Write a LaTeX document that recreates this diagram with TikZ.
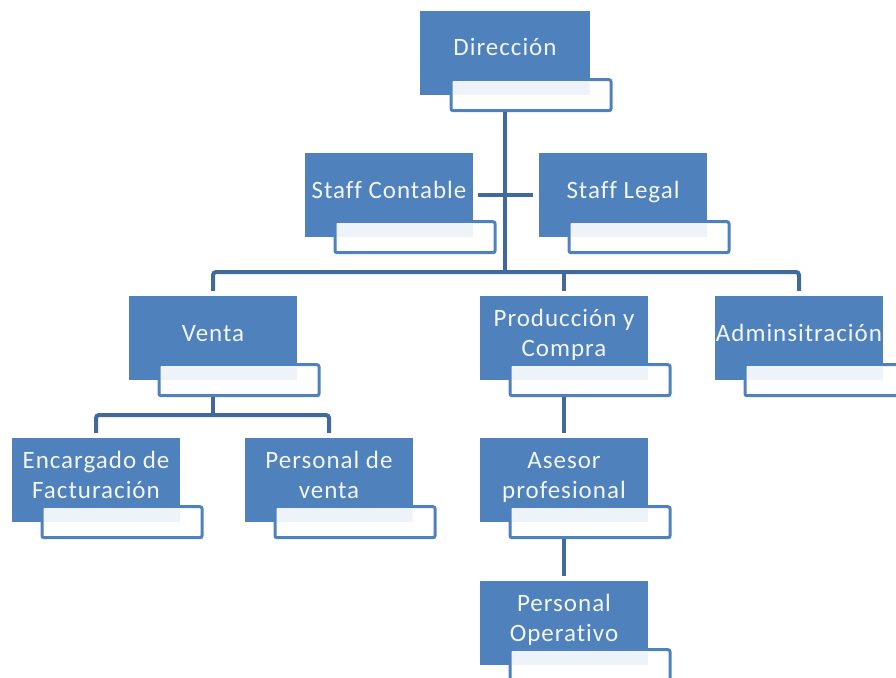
\documentclass[tikz,border=0pt]{standalone}
\usepackage{fontspec}
\setmainfont{Carlito}[LetterSpace=4, Ligatures=NoCommon]
\usetikzlibrary{calc, positioning}
\definecolor{boxblue}{HTML}{4F81BD}
\definecolor{lineblue}{HTML}{41699C}
\definecolor{paleblue}{HTML}{EEF3FA}
\tikzset{
    unit/.style={rectangle, fill=boxblue, minimum width=168pt, minimum height=84pt,
        inner sep=0pt, align=center, text=white!93!boxblue,
        font=\fontsize{25}{30}\selectfont, text height=17pt, text depth=11pt},
    twoline/.style={text height=47pt},
    subbox/.style={rectangle, fill=white, draw=boxblue, line width=3pt,
        rounded corners=2pt, minimum width=160pt, minimum height=31pt},
    link/.style={draw=lineblue, line width=4pt, rounded corners=3pt}
}

\begin{document}
\begin{tikzpicture}[x=1pt, y=-1pt, on grid]
      \clip (0,0) rectangle (896,677);

      % boxes
      \node[unit, minimum width=170pt] (dir) at (505,53) {Dirección};
      \node[unit] (sc) [below left = 142pt and 116pt of dir] {Staff Contable};
      \node[unit] (sl) [below right = 142pt and 118pt of dir] {Staff Legal};
      \node[unit] (venta) at (213,338) {Venta};
      \node[unit, twoline] (prod) [right = 351pt of venta] {Producción y\\Compra};
      \node[unit] (adm) [right = 235pt of prod] {Adminsitración};
      \node[unit, twoline] (enc) [below left = 142pt and 117pt of venta] {Encargado de\\Facturación};
      \node[unit, twoline] (pv) [below right = 142pt and 116pt of venta] {Personal de\\venta};
      \node[unit, twoline] (ase) [below = 142pt of prod] {Asesor\\profesional};
      \node[unit, twoline] (op) [below = 143pt of ase] {Personal\\Operativo};

      % white boxes under each unit
      \foreach \n in {dir, sc, sl, venta, prod, adm, enc, pv, ase, op} {
        \node[subbox] (\n-w) at ($(\n.south)+(26,0)$) {};
        \fill[paleblue] ($(\n-w.north west)+(3,3)$) rectangle (\n.south east);
      }

      % connectors
      \coordinate (bus) at (0,272);
      \coordinate (vbus) at (0,415);
      \path[link] (dir |- dir-w.south) -- (dir |- bus);
      \path[link, shorten <=5pt, shorten >=6pt] (sc.east) -- (sl.west);
      \path[link, shorten <=5pt, shorten >=5pt]
        (venta.north) -- (venta |- bus) -- (adm |- bus) -- (adm.north);
      \path[link, shorten >=5pt] (prod |- bus) -- (prod.north);
      \path[link] (venta |- venta-w.south) -- (venta |- vbus);
      \path[link, shorten <=5pt, shorten >=5pt]
        (enc.north) -- (enc |- vbus) -- (pv |- vbus) -- (pv.north);
      \path[link, shorten >=5pt] (prod |- prod-w.south) -- (ase.north);
      \path[link, shorten >=5pt] (ase |- ase-w.south) -- (op.north);
\end{tikzpicture}
\end{document}
